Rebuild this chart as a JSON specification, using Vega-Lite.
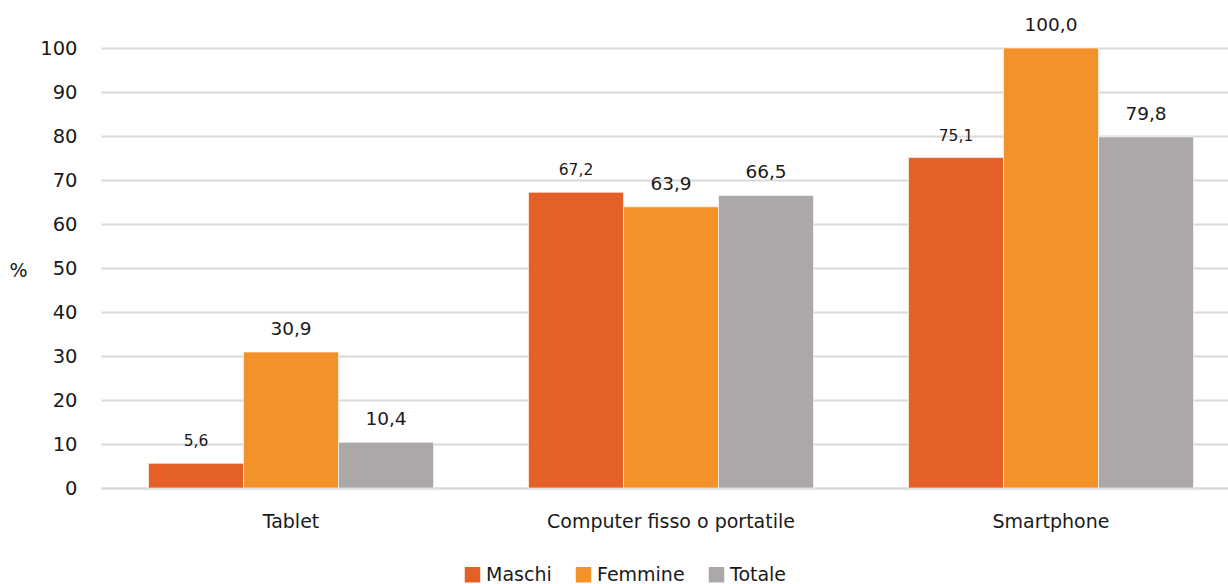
{
  "$schema": "https://vega.github.io/schema/vega-lite/v6.json",
  "autosize": "none",
  "width": 1127,
  "height": 440,
  "padding": {"left": 101, "top": 48, "right": 0, "bottom": 96},
  "background": "white",
  "config": {
    "font": "DejaVu Sans",
    "view": {"stroke": null},
    "locale": {"number": {"decimal": ",", "thousands": ".", "grouping": [3], "currency": ["€", ""]}}
  },
  "data": {
    "values": [
      {"dispositivo": "Tablet", "serie": "Maschi", "valore": 5.6},
      {"dispositivo": "Tablet", "serie": "Femmine", "valore": 30.9},
      {"dispositivo": "Tablet", "serie": "Totale", "valore": 10.4},
      {"dispositivo": "Computer fisso o portatile", "serie": "Maschi", "valore": 67.2},
      {"dispositivo": "Computer fisso o portatile", "serie": "Femmine", "valore": 63.9},
      {"dispositivo": "Computer fisso o portatile", "serie": "Totale", "valore": 66.5},
      {"dispositivo": "Smartphone", "serie": "Maschi", "valore": 75.1},
      {"dispositivo": "Smartphone", "serie": "Femmine", "valore": 100.0},
      {"dispositivo": "Smartphone", "serie": "Totale", "valore": 79.8}
    ]
  },
  "encoding": {
    "x": {
      "field": "dispositivo",
      "type": "nominal",
      "sort": ["Tablet", "Computer fisso o portatile", "Smartphone"],
      "scale": {"range": [0, 1140], "paddingInner": 0.25, "paddingOuter": 0.125},
      "axis": {
        "title": null,
        "labelAngle": 0,
        "labelFontSize": 19,
        "labelColor": "#1a1a1a",
        "labelPadding": 24,
        "labelLimit": 0,
        "ticks": false,
        "domain": true,
        "domainColor": "#d9d9d9",
        "domainWidth": 2,
        "grid": false
      }
    },
    "xOffset": {
      "field": "serie",
      "type": "nominal",
      "sort": ["Maschi", "Femmine", "Totale"]
    },
    "y": {
      "field": "valore",
      "type": "quantitative",
      "scale": {"domain": [0, 100]},
      "axis": {
        "title": "%",
        "titleAngle": 0,
        "titleX": -83,
        "titleY": 222,
        "titleAlign": "center",
        "titleBaseline": "middle",
        "titleFontSize": 19,
        "titleFontWeight": "normal",
        "titleColor": "#1a1a1a",
        "values": [0, 10, 20, 30, 40, 50, 60, 70, 80, 90, 100],
        "format": "d",
        "labelFontSize": 19.5,
        "labelColor": "#1a1a1a",
        "labelPadding": 24,
        "ticks": false,
        "domain": false,
        "grid": true,
        "gridColor": "#d9d9d9",
        "gridWidth": 2
      }
    }
  },
  "layer": [
    {
      "mark": {"type": "bar", "stroke": "#ffffff", "strokeWidth": 1, "strokeOpacity": 0.6},
      "encoding": {
        "color": {
          "field": "serie",
          "type": "nominal",
          "sort": ["Maschi", "Femmine", "Totale"],
          "scale": {"domain": ["Maschi", "Femmine", "Totale"], "range": ["#E56027", "#F4922A", "#ACA8A8"]},
          "legend": {
            "title": null,
            "orient": "none",
            "legendX": 362,
            "legendY": 517,
            "direction": "horizontal",
            "symbolType": "square",
            "symbolSize": 240,
            "symbolStrokeWidth": 0,
            "labelFontSize": 19,
            "labelColor": "#1a1a1a",
            "labelOffset": 4,
            "columnPadding": 22
          }
        }
      }
    },
    {
      "transform": [{"filter": "datum.serie === 'Maschi'"}],
      "mark": {"type": "text", "baseline": "alphabetic", "dy": -17, "color": "#1a1a1a", "fontSize": 15.5},
      "encoding": {
        "text": {"field": "valore", "type": "quantitative", "format": ".1f"}
      }
    },
    {
      "transform": [{"filter": "datum.serie !== 'Maschi'"}],
      "mark": {"type": "text", "baseline": "alphabetic", "dy": -17, "color": "#1a1a1a", "fontSize": 18.5},
      "encoding": {
        "text": {"field": "valore", "type": "quantitative", "format": ".1f"}
      }
    }
  ]
}
